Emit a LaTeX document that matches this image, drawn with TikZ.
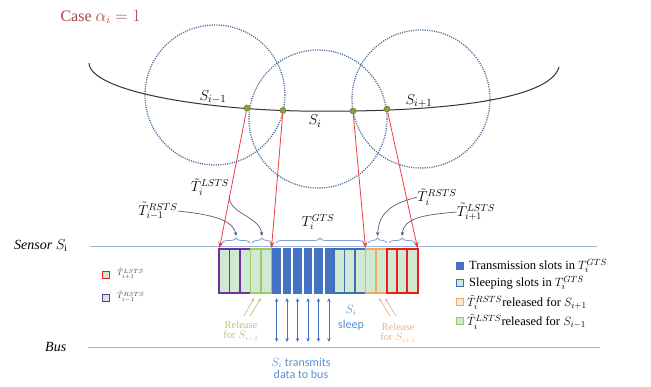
\documentclass[tikz,border=0pt]{standalone}
\usepackage{fontspec}
\setmainfont{Liberation Serif}
\newfontfamily\calib{Carlito}
\usetikzlibrary{arrows.meta,decorations.pathreplacing}
\definecolor{titlered}{HTML}{A8433F}
\definecolor{circblue}{HTML}{4C6C96}
\definecolor{linered}{HTML}{EE3A43}
\definecolor{axisblue}{HTML}{9CB5D9}
\definecolor{bracecol}{HTML}{7F9DD0}
\definecolor{lblarrow}{HTML}{4E5F7C}
\definecolor{mint}{HTML}{CFE9D3}
\definecolor{purp}{HTML}{7030A0}
\definecolor{grn}{HTML}{9CCB63}
\definecolor{txblue}{HTML}{4472C4}
\definecolor{slblue}{HTML}{3F6FB5}
\definecolor{orng}{HTML}{F2A85E}
\definecolor{rd}{HTML}{F01A1A}
\definecolor{relgreen}{HTML}{B3C96F}
\definecolor{relorange}{HTML}{F3B27E}
\definecolor{txtblue}{HTML}{5A8FCB}
\definecolor{dotfill}{HTML}{8BA23F}
\definecolor{dotdraw}{HTML}{6E7F2C}
\begin{document}
\begin{tikzpicture}[x=1pt,y=-1pt,
  circ/.style={draw=circblue, line width=1.3pt, dash pattern=on 1.1pt off 1.2pt},
  dotnode/.style={circle, fill=dotfill, draw=dotdraw, line width=0.6pt, inner sep=0pt, minimum size=6pt},
  redarr/.style={draw=linered, line width=0.8pt, -{Stealth[length=6pt,width=4.5pt]}},
  axis/.style={draw=axisblue, line width=1pt},
  bracestyle/.style={draw=bracecol, line width=0.8pt, decorate, decoration={brace, amplitude=5pt}},
  lblarr/.style={draw=lblarrow, line width=0.7pt, -{Stealth[length=4pt,width=3.5pt]}},
  mathlbl/.style={font=\fontsize{14.5}{16}\selectfont, inner sep=0pt},
  curvelbl/.style={font=\fontsize{15.5}{17}\selectfont, inner sep=0pt},
  dblarr/.style={draw=txblue, line width=0.7pt, {Stealth[length=4pt,width=3.5pt]}-{Stealth[length=4pt,width=3.5pt]}},
  legtext/.style={anchor=west, font=\fontsize{12.5}{14}\selectfont, inner sep=0pt},
  legsq/.style={minimum size=7pt, inner sep=0pt, line width=1.2pt},
]
\useasboundingbox (0,0) rectangle (651,387);

% title
\node[anchor=west, text=titlered, font=\fontsize{16}{18}\selectfont] (title) at (57,17) {Case $\alpha_i = 1$};

% circles
\draw[circ] (215,95) circle[radius=70];
\draw[circ] (318,119) circle[radius=69];
\draw[circ] (421,99) circle[radius=69];

% road curve
\draw[line width=1pt, black!80] (89,63) .. controls (90,90) and (195,109) .. (300,111)
   .. controls (440,113) and (550,100) .. (559,67);

% curve labels
\node[curvelbl] (si1) at (213,97) {$S_{i-1}$};
\node[curvelbl] (si) at (315,121) {$S_i$};
\node[curvelbl] (si2) at (419,101) {$S_{i+1}$};

% dots
\node[dotnode] (d1) at (247,108) {};
\node[dotnode] (d2) at (283,110.5) {};
\node[dotnode] (d3) at (353,111) {};
\node[dotnode] (d4) at (387,109) {};

% axes
\node[anchor=west, font=\itshape\fontsize{14}{16}\selectfont, inner sep=0pt] (sensor) at (14,246) {Sensor $S_{\mathrm{i}}$};
\node[anchor=west, font=\itshape\fontsize{14}{16}\selectfont, inner sep=0pt] (bus) at (45,347) {Bus};
\coordinate (sensL) at (90,247);
\coordinate (sensR) at (597,247);
\coordinate (busL) at (88,348);
\coordinate (busR) at (600,348);
\draw[axis] (sensL) -- (sensR);
\draw[axis] (busL) -- (busR);

% slots
\def\sw{10.47}
\foreach \k/\col/\lw in {0/purp/1.8,1/purp/1.8,2/purp/1.8,3/grn/1.5,4/grn/1.5,11/slblue/1.5,12/slblue/1.5,13/slblue/1.5,14/orng/1.5,15/orng/1.5,16/rd/2,17/rd/2,18/rd/2}
  \draw[fill=mint, draw=\col, line width=\lw pt] ({219+\k*\sw},249) rectangle ({219+(\k+1)*\sw},293);
\foreach \k in {5,...,10}
  \fill[txblue] ({219+\k*\sw+0.9},248.3) rectangle ({219+(\k+1)*\sw-0.9},293.7);

% arrow targets
\coordinate (p0) at (219.5,248);
\coordinate (p5) at (271.5,248);
\coordinate (p14) at (365.5,248);
\coordinate (p19) at (417.5,248);
\draw[redarr] (d1) -- (p0);
\draw[redarr] (d2) -- (p5);
\draw[redarr] (d3) -- (p14);
\draw[redarr] (d4) -- (p19);

% braces
\draw[bracestyle] (222,243) -- (250,243);
\draw[bracestyle] (252,243) -- (272,243);
\draw[bracestyle] (276,243) -- (364,243);
\draw[bracestyle] (368,243) -- (387,243);
\draw[bracestyle] (389,243) -- (415,243);
\coordinate (bP) at (236,236);
\coordinate (bG) at (262,236);
\coordinate (bO) at (377.5,236);
\coordinate (bR) at (402,236);

% interval labels
\node[mathlbl] (lLm) at (210,187) {$\tilde{T}_i^{LSTS}$};
\node[mathlbl] (lRm) at (158,211) {$\tilde{T}_{i-1}^{RSTS}$};
\node[mathlbl] (lG) at (318,222) {$T_i^{GTS}$};
\node[mathlbl] (lR) at (437,197) {$\tilde{T}_i^{RSTS}$};
\node[mathlbl] (lLp) at (476,212) {$\tilde{T}_{i+1}^{LSTS}$};

\draw[lblarr] (lRm.east) .. controls (205,214) and (233,218) .. (bP);
\draw[lblarr] (lLm.south east) .. controls (228,214) and (260,216) .. (bG);
\draw[lblarr] (lR.west) .. controls (395,203) and (379,210) .. (bO);
\draw[lblarr] (lLp.west) .. controls (422,215) and (404,218) .. (bR);

% double arrows
\foreach \k in {5,...,10} {
  \coordinate (ua\k) at ({219+(\k+0.5)*\sw},298);
  \coordinate (ub\k) at ({219+(\k+0.5)*\sw},342);
  \draw[dblarr] (ua\k) -- (ub\k);
}

% release arrows
\coordinate (rg1s) at (244,316); \coordinate (rg1e) at (254,298);
\coordinate (rg2s) at (250,316); \coordinate (rg2e) at (261,298);
\draw[draw=relgreen, line width=0.7pt, -{Stealth[length=4pt,width=3pt]}] (rg1s) -- (rg1e);
\draw[draw=relgreen, line width=0.7pt, -{Stealth[length=4pt,width=3pt]}] (rg2s) -- (rg2e);
\coordinate (ro1s) at (390,316); \coordinate (ro1e) at (379,298);
\coordinate (ro2s) at (396,316); \coordinate (ro2e) at (385,298);
\draw[draw=relorange, line width=0.7pt, -{Stealth[length=4pt,width=3pt]}] (ro1s) -- (ro1e);
\draw[draw=relorange, line width=0.7pt, -{Stealth[length=4pt,width=3pt]}] (ro2s) -- (ro2e);

\node[text=relgreen, align=center, font=\fontsize{10.5}{10}\selectfont, inner sep=0pt] (relg) at (241,331) {Release\\for $S_{i-1}$};
\node[text=relorange, align=center, font=\fontsize{10.5}{10}\selectfont, inner sep=0pt] (relo) at (398,333) {Release\\for $S_{i+1}$};
\node[text=txtblue, align=center, font=\calib\fontsize{12}{15}\selectfont, inner sep=0pt] (sleep) at (351,318) {$S_i$\\sleep};
\node[text=txtblue, align=center, font=\calib\fontsize{12}{12}\selectfont, inner sep=0pt] (trans) at (301,368) {$S_i$ transmits\\data to bus};

% left legend
\node[legsq, draw=rd, fill=mint] (lq1) at (106,275) {};
\node[legsq, draw=purp, fill=mint] (lq2) at (106,298) {};
\node[anchor=west, font=\fontsize{8}{9}\selectfont, inner sep=0pt, text=black!75] (lq1t) at (117,274) {$\tilde{T}_{i+1}^{LSTS}$};
\node[anchor=west, font=\fontsize{8}{9}\selectfont, inner sep=0pt, text=black!75] (lq2t) at (117,297) {$\tilde{T}_{i-1}^{RSTS}$};

% right legend
\node[legsq, fill=txblue, draw=txblue] (rq1) at (460,266) {};
\node[legsq, fill=mint, draw=slblue, line width=0.9pt] (rq2) at (460,283) {};
\node[legsq, fill=mint!60!orng!40, draw=orng, line width=0.9pt] (rq3) at (460,302) {};
\node[legsq, fill=mint, draw=grn, line width=0.9pt] (rq4) at (460,321) {};
\node[legtext] (rt1) at (469,266) {Transmission slots in $T_i^{GTS}$};
\node[legtext] (rt2) at (469,283) {Sleeping slots in $T_i^{GTS}$};
\node[legtext] (rt3) at (467,302.5) {$\tilde{T}_i^{RSTS}$released for $S_{i+1}$};
\node[legtext] (rt4) at (467,322) {$\tilde{T}_i^{LSTS}$released for $S_{i-1}$};
\end{tikzpicture}
\end{document}
